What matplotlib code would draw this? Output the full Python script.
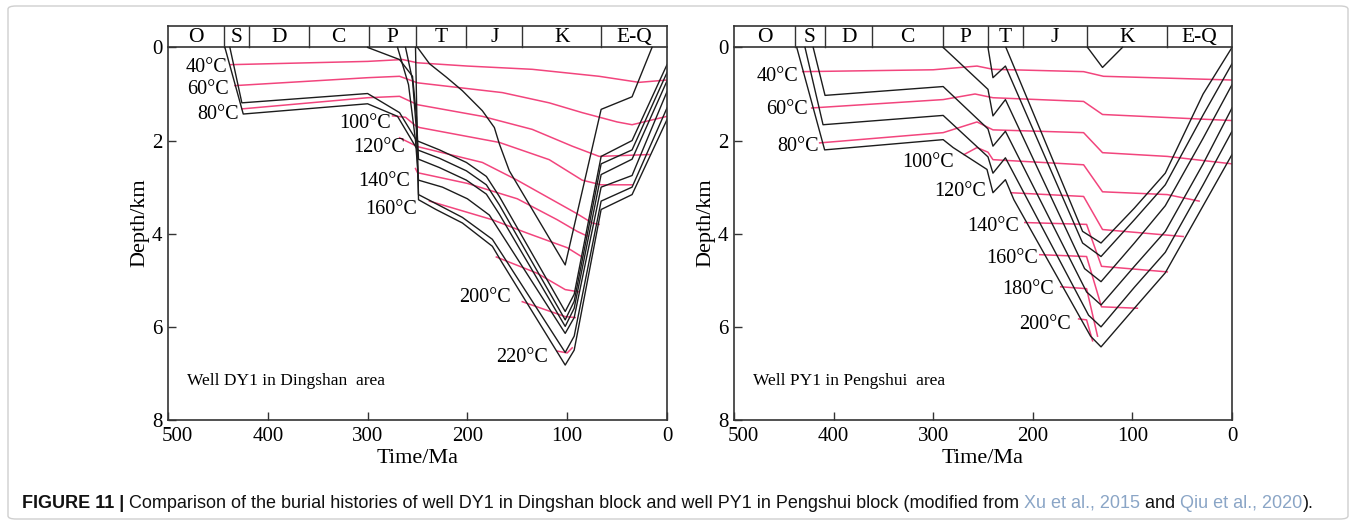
import matplotlib
matplotlib.use("Agg")
import matplotlib.pyplot as plt
import matplotlib.transforms as mtransforms
from matplotlib import font_manager
from matplotlib.patches import FancyBboxPatch

plt.rcParams["font.family"] = ["Liberation Serif", "DejaVu Serif"]

# geological periods shown in the header strip
PERIODS = ["O", "S", "D", "C", "P", "T", "J", "K", "E-Q"]
DY1_BOUNDS = [500, 443.8, 419.2, 358.9, 298.9, 251.9, 201.3, 145.0, 66.0, 0]
PY1_BOUNDS = [500, 438.8, 408.6, 361.0, 290.0, 245.0, 210.0, 145.6, 65.0, 0]

# ---- well DY1: burial curves (age Ma, depth km) ----
dy1_a = [(438, 0), (426, 1.19), (300, 0.99), (268, 1.4), (251, 2.0), (228, 2.2),
         (201, 2.47), (181, 2.77), (168, 3.2), (102, 5.67), (93, 5.3), (66, 2.34),
         (35, 2.0), (0, 0.37)]
dy1_b = [(443, 0), (424.6, 1.43), (300, 1.21), (270, 1.48), (250, 2.2), (228, 2.38),
         (201, 2.65), (181, 2.95), (168, 3.38), (102, 5.85), (93, 5.45), (66, 2.5),
         (35, 2.2), (0, 0.54)]
dy1_c = [(300, 0), (268, 0.26), (255, 0.62), (251, 1.5), (249, 2.4), (228, 2.58),
         (201, 2.85), (181, 3.15), (168, 3.58), (102, 5.99), (93, 5.6), (66, 2.73),
         (35, 2.4), (0, 0.72)]
dy1_d = [(270, 0), (259, 0.8), (252, 2.0), (249, 2.85), (225, 3.0), (200, 3.25),
         (178, 3.6), (166, 4.0), (102, 6.14), (93, 5.8), (66, 3.0), (35, 2.75),
         (0, 0.95)]
dy1_e = [(262, 0), (255, 0.7), (251, 1.8), (249, 3.16), (231, 3.36), (205, 3.65),
         (175, 4.12), (165, 4.45), (102, 6.55), (93, 6.2), (66, 3.3), (35, 3.0),
         (0, 1.3)]
dy1_g = [(252, 0), (249, 3.27), (231.5, 3.48), (205, 3.77), (175, 4.27),
         (165, 4.63), (102, 6.82), (93, 6.5), (66, 3.48), (35, 3.16), (0, 1.55)]
dy1_f = [(250, 0), (238, 0.35), (221, 0.64), (205, 0.93), (185, 1.36), (173, 1.72),
         (168, 2.07), (158, 2.65), (102, 4.67), (66, 1.33), (35, 1.06), (15, 0)]
DY1_BURIAL = [dy1_a, dy1_b, dy1_c, dy1_d, dy1_e, dy1_g, dy1_f]

# ---- well DY1: isotherms ----
DY1_TEMPS = [40, 60, 80, 100, 120, 140, 160, 180, 200, 220]
dy1_t40 = [(437, 0.37), (300, 0.3), (265, 0.26), (250, 0.33), (200, 0.4),
           (135, 0.47), (68, 0.62), (28, 0.75), (0, 0.7)]
dy1_t60 = [(433, 0.82), (300, 0.65), (268, 0.62), (250, 0.76), (165, 0.97),
           (118, 1.19), (85, 1.4), (50, 1.6), (35, 1.66), (0, 1.48)]
dy1_t80 = [(426, 1.32), (300, 1.08), (268, 1.05), (250, 1.23), (185, 1.48),
           (135, 1.76), (95, 2.12), (68, 2.34), (18, 2.3)]
dy1_t100 = [(275, 1.47), (262, 1.5), (252, 1.68), (248, 1.72), (168, 2.04),
            (118, 2.41), (85, 2.85), (66, 2.95), (35, 2.95)]
dy1_t120 = [(268, 1.94), (250, 2.13), (185, 2.47), (151, 2.84), (91, 3.56),
            (75, 3.77), (68, 3.8)]
dy1_t140 = [(252, 2.6), (250, 2.69), (200, 2.92), (150, 3.25), (110, 3.7),
            (90, 3.95), (80, 4.05)]
dy1_t160 = [(238, 3.3), (175, 3.7), (141, 3.98), (100, 4.3), (85, 4.5)]
dy1_t180 = [(171, 4.5), (130, 4.85), (102, 5.2), (88, 5.25)]
dy1_t200 = [(145, 5.46), (102, 5.78), (92, 5.8)]
dy1_t220 = [(110, 6.52), (100, 6.56), (95, 6.45)]
DY1_ISO = [dy1_t40, dy1_t60, dy1_t80, dy1_t100, dy1_t120, dy1_t140, dy1_t160,
           dy1_t180, dy1_t200, dy1_t220]
DY1_LABELED = [40, 60, 80, 100, 120, 140, 160, 200, 220]
DY1_LABEL_XY = [(461, 0.43), (460, 0.9), (450, 1.44), (303, 1.63), (288, 2.15),
                (283, 2.88), (276, 3.48), (182, 5.38), (145, 6.65)]

# ---- well PY1: burial curves ----
py1_1 = [(227, 0), (150, 3.95), (131.5, 4.2), (98, 3.45), (67, 2.7), (29, 1.0),
         (0, 0.0)]
py1_2 = [(245, 0), (240, 0.65), (227.5, 0.4), (150, 4.2), (131.5, 4.49),
         (98, 3.7), (67, 2.95), (29, 1.45), (0, 0.35)]
py1_3 = [(290, 0), (245, 0.9), (240, 1.47), (227.5, 1.12), (148, 4.75),
         (131.5, 5.03), (98, 4.2), (67, 3.4), (29, 1.95), (0, 0.8)]
py1_4 = [(420.5, 0), (408.6, 1.03), (290, 0.84), (245, 1.75), (240, 2.12),
         (227.5, 1.8), (146, 5.25), (131.5, 5.53), (98, 4.7), (67, 3.95),
         (29, 2.5), (0, 1.3)]
py1_5 = [(428.7, 0), (410.6, 1.66), (290, 1.46), (245, 2.35), (240, 2.7),
         (227.5, 2.37), (144, 5.75), (131.5, 6.0), (98, 5.15), (67, 4.4),
         (29, 2.95), (0, 1.8)]
py1_6 = [(437, 0), (409, 2.2), (290, 1.98), (280, 2.15), (246, 2.62), (240, 3.12),
         (227.5, 2.84), (219, 3.27), (142, 6.2), (131.5, 6.43), (98, 5.6),
         (67, 4.84), (29, 3.4), (0, 2.3)]
py1_k = [(145, 0), (130, 0.43), (110, 0)]
PY1_BURIAL = [py1_1, py1_2, py1_3, py1_4, py1_5, py1_6, py1_k]

# ---- well PY1: isotherms ----
PY1_TEMPS = [40, 60, 80, 100, 120, 140, 160, 180, 200]
py1_t40 = [(431, 0.52), (300, 0.48), (256, 0.4), (240, 0.47), (149, 0.52),
           (129, 0.62), (0, 0.7)]
py1_t60 = [(422, 1.3), (290, 1.12), (258, 1.0), (240, 1.08), (149, 1.16),
           (130, 1.44), (0, 1.57)]
py1_t80 = [(414, 2.05), (290, 1.83), (256, 1.6), (240, 1.77), (149, 1.83),
           (130, 2.26), (65, 2.34), (0, 2.5)]
py1_t100 = [(269, 2.3), (256, 2.15), (245, 2.25), (240, 2.41), (149, 2.52),
            (130, 3.1), (65, 3.16), (33, 3.3)]
py1_t120 = [(222, 3.12), (149, 3.2), (130, 3.91), (49, 4.06)]
py1_t140 = [(208, 3.76), (146, 3.8), (131, 4.7), (65, 4.82)]
py1_t160 = [(193, 4.45), (146, 4.49), (131, 5.57), (95, 5.6)]
py1_t180 = [(172, 5.14), (146, 5.18), (135, 6.2)]
py1_t200 = [(154, 5.83), (146, 5.85), (140, 6.3)]
PY1_ISO = [py1_t40, py1_t60, py1_t80, py1_t100, py1_t120, py1_t140, py1_t160,
           py1_t180, py1_t200]
PY1_LABELED = [40, 60, 80, 100, 120, 140, 160, 180, 200]
PY1_LABEL_XY = [(456, 0.62), (447, 1.33), (436, 2.13), (305, 2.47), (273, 3.1),
                (240, 3.85), (221, 4.54), (205, 5.2), (188, 5.96)]

INK = "#1c1c1c"
PINK = "#f2457d"
STRIP_TOP = -0.46


def draw_panel(ax, bounds, burial, temps, isotherms, labeled, label_xy, well):
    ax.set_xlim(500, 0)
    ax.set_ylim(8, STRIP_TOP)

    # stratigraphic strip above depth zero
    ax.plot([500, 0], [0, 0], color="#333333", lw=1.2, clip_on=False)
    for b in bounds[1:-1]:
        ax.plot([b, b], [STRIP_TOP, 0], color="#333333", lw=1.0)
    for name, lo, hi in zip(PERIODS, bounds[:-1], bounds[1:]):
        ax.text((lo + hi) / 2, STRIP_TOP / 2 + 0.02, name, ha="center",
                va="center", fontsize=15.5)

    for t, line in zip(temps, isotherms):
        ax.plot([p[0] for p in line], [p[1] for p in line], color=PINK, lw=1.1)
    for line in burial:
        ax.plot([p[0] for p in line], [p[1] for p in line], color=INK, lw=1.0)

    for t, (x, y) in zip(labeled, label_xy):
        ax.text(x, y, f"{t}°C", ha="center", va="center", fontsize=14.5)

    ax.text(0.038, 0.10, well, transform=ax.transAxes, fontsize=12.5,
            ha="left", va="center")

    ax.set_xticks([500, 400, 300, 200, 100, 0])
    ax.set_yticks([0, 2, 4, 6, 8])
    ax.tick_params(direction="in", length=6, width=1.0, labelsize=15,
                   color="#333333")
    ax.tick_params(axis="x", pad=5)
    ax.tick_params(axis="y", pad=4)
    for s in ax.spines.values():
        s.set_color("#333333")
        s.set_linewidth(1.2)
    ax.set_xlabel("Time/Ma", fontsize=16, labelpad=2)
    ax.set_ylabel("Depth/km", fontsize=16, labelpad=2)

    # nudge the "500" label right so it clears the depth "8"
    first = ax.get_xticklabels()[0]
    first.set_transform(first.get_transform() + mtransforms.ScaledTranslation(
        9 / 100, 0, ax.figure.dpi_scale_trans))


fig = plt.figure(figsize=(13.56, 5.25), dpi=100)
ax1 = fig.add_axes([168 / 1356, 105 / 525, 499 / 1356, 394 / 525])
ax2 = fig.add_axes([734 / 1356, 105 / 525, 498 / 1356, 394 / 525])

draw_panel(ax1, DY1_BOUNDS, DY1_BURIAL, DY1_TEMPS, DY1_ISO, DY1_LABELED,
           DY1_LABEL_XY, "Well DY1 in Dingshan  area")
draw_panel(ax2, PY1_BOUNDS, PY1_BURIAL, PY1_TEMPS, PY1_ISO, PY1_LABELED,
           PY1_LABEL_XY, "Well PY1 in Pengshui  area")

# light frame around the whole figure
fig.patches.append(FancyBboxPatch((8 / 1356, 6 / 525), 1340 / 1356, 513 / 525,
                                  boxstyle="round,pad=0,rounding_size=0.006",
                                  transform=fig.transFigure, fc="none",
                                  ec="#cfcfcf", lw=1.0))

# caption, built piece by piece so the citations can be coloured
names = {f.name for f in font_manager.fontManager.ttflist}
cap_font = "Liberation Sans Narrow" if "Liberation Sans Narrow" in names else "Liberation Sans"
pieces = [
    ("FIGURE 11 | ", "bold", "#111111"),
    ("Comparison of the burial histories of well DY1 in Dingshan block and well "
     "PY1 in Pengshui block (modified from ", "normal", "#111111"),
    ("Xu et al., 2015", "normal", "#8aa5c6"),
    (" and ", "normal", "#111111"),
    ("Qiu et al., 2020", "normal", "#8aa5c6"),
    (").", "normal", "#111111"),
]
renderer = fig.canvas.get_renderer()


def place_caption(size):
    x = 22 / 1356
    arts = []
    for txt, weight, color in pieces:
        a = fig.text(x, 1 - 503 / 525, txt, fontsize=size, fontweight=weight,
                     color=color, family=cap_font, ha="left", va="center")
        bb = a.get_window_extent(renderer)
        x = bb.x1 / fig.bbox.width
        arts.append(a)
    return arts, x


arts, x_end = place_caption(12)
width = x_end - 22 / 1356
for a in arts:
    a.remove()
place_caption(12 * (1296 / 1356) / width)

fig.savefig("out.png", dpi=100)
